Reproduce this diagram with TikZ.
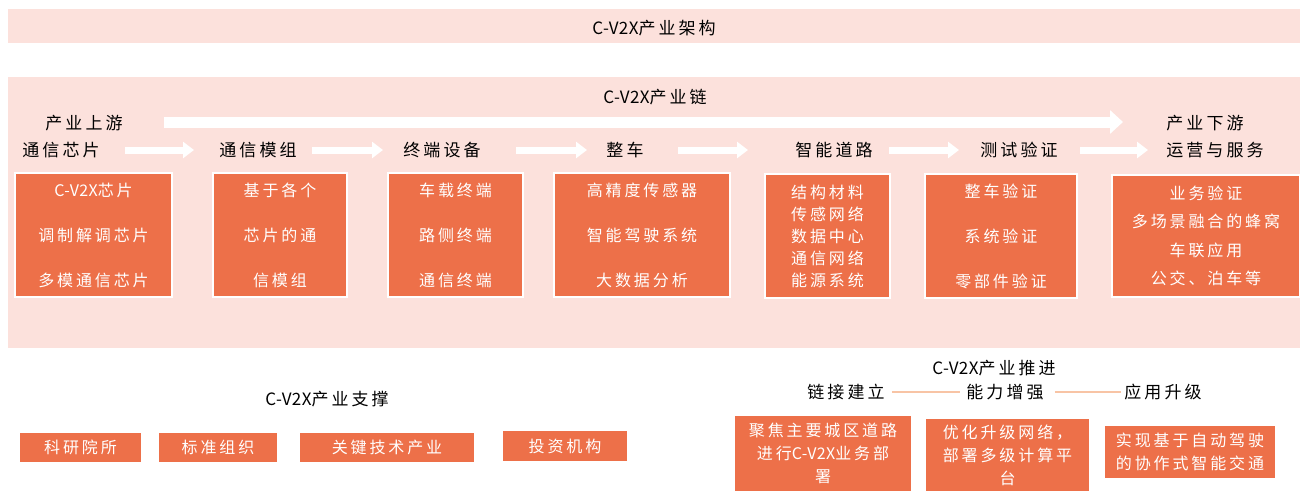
\documentclass[tikz,border=0pt]{standalone}
\usepackage{fontspec}
\setmainfont{Noto Sans CJK SC}[LetterSpace=18]
\newfontfamily\latf{Noto Sans CJK SC}[LetterSpace=2]
\newcommand\cvx{{\latf C-V2X}}
\usetikzlibrary{arrows.meta}
\definecolor{bandc}{HTML}{FCE1DC}
\definecolor{oboxc}{HTML}{ED7049}
\definecolor{lnkc}{HTML}{F8C4A5}
\begin{document}
\begin{tikzpicture}[x=1pt,y=-1pt,
  lbl/.style={inner sep=0pt, font=\fontsize{17}{20}\selectfont, text=black},
  ob/.style={fill=oboxc, draw=white, line width=1.5pt, inner sep=0pt, text=white, align=center},
  sp45/.style={font=\fontsize{16}{45}\selectfont},
  sp22/.style={font=\fontsize{16}{22}\selectfont},
  sp28/.style={font=\fontsize{16}{28.5}\selectfont},
  sp23/.style={font=\fontsize{16}{23}\selectfont},
  sp1/.style={font=\fontsize{16}{19}\selectfont},
  bigarrow/.style={white, line width=11pt, -{Triangle[length=13pt,width=23pt]}},
  smallarrow/.style={white, line width=7pt, -{Triangle[length=11pt,width=16pt]}},
  lnkline/.style={lnkc, line width=2pt}]
\useasboundingbox (0,0) rectangle (1306,493);
% bands
\fill[bandc] (8,9) rectangle (1300,43);
\fill[bandc] (8,77) rectangle (1300,348);
\node[lbl] (title) at (654,28) {\cvx 产业架构};
\node[lbl] (chain) at (655,97) {\cvx 产业链};
% big arrow
\coordinate (ba1) at (164,122);
\coordinate (ba2) at (1123,122);
\draw[bigarrow] (ba1) -- (ba2);
% stage labels
\node[lbl] (up) at (84,123) {产业上游};
\node[lbl] (s1) at (61,150) {通信芯片};
\node[lbl] (s2) at (258,150) {通信模组};
\node[lbl] (s3) at (442,150) {终端设备};
\node[lbl] (s4) at (625,150) {整车};
\node[lbl] (s5) at (834,150) {智能道路};
\node[lbl] (s6) at (1019,150) {测试验证};
\node[lbl] (down) at (1205,123) {产业下游};
\node[lbl] (s7) at (1215,150) {运营与服务};
% small arrows
\coordinate (a1s) at (125,150); \coordinate (a1e) at (194,150);
\coordinate (a2s) at (312,150); \coordinate (a2e) at (383,150);
\coordinate (a3s) at (516,150); \coordinate (a3e) at (587,150);
\coordinate (a4s) at (678,150); \coordinate (a4e) at (748,150);
\coordinate (a5s) at (889,150); \coordinate (a5e) at (959,150);
\coordinate (a6s) at (1080,150); \coordinate (a6e) at (1148,150);
\draw[smallarrow] (a1s) -- (a1e);
\draw[smallarrow] (a2s) -- (a2e);
\draw[smallarrow] (a3s) -- (a3e);
\draw[smallarrow] (a4s) -- (a4e);
\draw[smallarrow] (a5s) -- (a5e);
\draw[smallarrow] (a6s) -- (a6e);
% chain boxes
\node[ob, sp45, minimum width=157pt, minimum height=124pt] (b1) at (93.5,235) {\cvx 芯片\\调制解调芯片\\多模通信芯片};
\node[ob, sp45, minimum width=134pt, minimum height=124pt] (b2) at (280,235) {基于各个\\芯片的通\\信模组};
\node[ob, sp45, minimum width=135pt, minimum height=124pt] (b3) at (455.5,235) {车载终端\\路侧终端\\通信终端};
\node[ob, sp45, minimum width=176pt, minimum height=124pt] (b4) at (642,235) {高精度传感器\\智能驾驶系统\\大数据分析};
\node[ob, sp22, minimum width=125pt, minimum height=124pt] (b5) at (827.5,236) {结构材料\\传感网络\\数据中心\\通信网络\\能源系统};
\node[ob, sp45, minimum width=152pt, minimum height=124pt] (b6) at (1001,236) {整车验证\\系统验证\\零部件验证};
\node[ob, sp28, minimum width=188pt, minimum height=122pt] (b7) at (1206,236) {业务验证\\多场景融合的蜂窝\\车联应用\\公交、泊车等};
% support
\node[lbl] (sup) at (327,399) {\cvx 产业支撑};
\node[ob, sp1, minimum width=123pt, minimum height=31pt] (k1) at (80.5,447.5) {科研院所};
\node[ob, sp1, minimum width=120pt, minimum height=31pt] (k2) at (218,447.5) {标准组织};
\node[ob, sp1, minimum width=176pt, minimum height=31pt] (k3) at (387,447.5) {关键技术产业};
\node[ob, sp1, minimum width=126pt, minimum height=32pt] (k4) at (565,446) {投资机构};
% promotion
\node[lbl] (pro) at (994,368) {\cvx 产业推进};
\node[lbl] (p1) at (846,392) {链接建立};
\node[lbl] (p2) at (1005,392) {能力增强};
\node[lbl] (p3) at (1163,392) {应用升级};
\draw[lnkline] (p1.east) ++(7pt,0) -- ([xshift=-6pt]p2.west);
\draw[lnkline] (p2.east) ++(11pt,0) -- ([xshift=-3pt]p3.west);
\node[ob, sp23, minimum width=178pt, minimum height=77pt] (r1) at (823,453.5) {聚焦主要城区道路\\进行\cvx 业务部\\署};
\node[ob, sp23, minimum width=165pt, minimum height=74pt] (r2) at (1007.5,455) {优化升级网络，\\部署多级计算平\\台};
\node[ob, sp23, minimum width=172pt, minimum height=54pt] (r3) at (1190,452) {实现基于自动驾驶\\的协作式智能交通};
\end{tikzpicture}
\end{document}
